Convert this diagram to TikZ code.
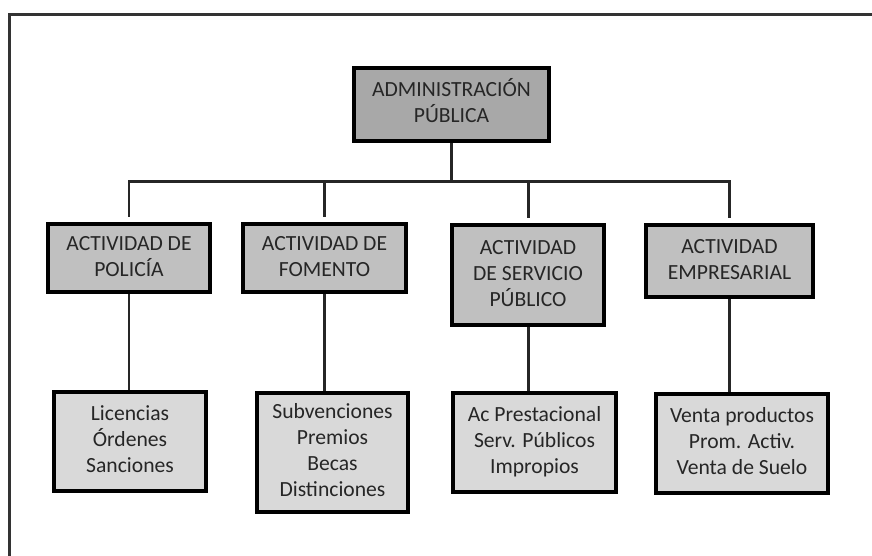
\documentclass[tikz,border=0pt]{standalone}
\usepackage{fontspec}
\setmainfont{Carlito}
\usepackage{tikz}
\usetikzlibrary{positioning}
\definecolor{topgray}{RGB}{168,168,168}
\definecolor{midgray}{RGB}{192,192,192}
\definecolor{lowgray}{RGB}{217,217,217}

\begin{document}
\begin{tikzpicture}[scale=1]
        \tikzstyle{box}=[draw,rectangle,line width=2.5pt,text centered,inner sep=2pt,font=\fontsize{12.3}{14.8}\selectfont,text=black!85]
        \tikzstyle{admin}=[box,fill=topgray]
        \tikzstyle{activ}=[box,fill=midgray]
        \tikzstyle{tarea}=[box,fill=lowgray]
        \tikzstyle{link}=[line width=1.7pt,black!85]

        \useasboundingbox (0,0) rectangle (17.44,11.12);
        % marco
        \draw[line width=1.6pt,black!80] (0.19,0) -- (0.19,10.83) -- (17.44,10.83);

        \node[admin,minimum width=3.9cm,minimum height=1.46cm] (adm) at (9.03,9.03) {
            \begin{tabular}{c}
                ADMINISTRACIÓN \\
                PÚBLICA
            \end{tabular}};

        \node[activ,minimum width=3.24cm,minimum height=1.36cm] (pol) at (2.58,5.96) {
            \begin{tabular}{c}
                ACTIVIDAD DE \\
                POLICÍA
            \end{tabular}};

        \node[activ,minimum width=3.26cm,minimum height=1.36cm] (fom) at (6.49,5.96) {
            \begin{tabular}{c}
                ACTIVIDAD DE \\
                FOMENTO
            \end{tabular}};

        \node[activ,minimum width=3.04cm,minimum height=2.0cm] (ser) at (10.56,5.62) {
            \begin{tabular}{c}
                ACTIVIDAD \\
                DE SERVICIO \\
                PÚBLICO
            \end{tabular}};

        \node[activ,minimum width=3.34cm,minimum height=1.44cm] (emp) at (14.59,5.9) {
            \begin{tabular}{c}
                ACTIVIDAD \\
                EMPRESARIAL
            \end{tabular}};

        \node[tarea,minimum width=3.04cm,minimum height=1.98cm] (polb) at (2.6,2.29) {
            \begin{tabular}{c}
                Licencias \\
                Órdenes \\
                Sanciones
            \end{tabular}};

        \node[tarea,minimum width=3.02cm,minimum height=2.38cm] (fomb) at (6.65,2.07) {
            \begin{tabular}{c}
                Subvenciones \\
                Premios \\
                Becas \\
                Distinciones
            \end{tabular}};

        \node[tarea,minimum width=3.26cm,minimum height=1.98cm] (serb) at (10.69,2.27) {
            \begin{tabular}{c}
                Ac Prestacional \\
                Serv. Públicos \\
                Impropios
            \end{tabular}};

        \node[tarea,minimum width=3.36cm,minimum height=1.98cm] (empb) at (14.84,2.25) {
            \begin{tabular}{c}
                Venta productos \\
                Prom. Activ. \\
                Venta de Suelo
            \end{tabular}};

        % ramas
        \draw[link] (adm.south) -- ++(0,-0.76) coordinate (bus);
        \draw[link,shorten <=3pt] (pol.north) -- (pol.north |- bus) -- (emp.north |- bus) -- (emp.north) [shorten >=3pt];
        \foreach \n in {fom,ser}
            \draw[link,shorten <=3pt] (\n.north) -- (\n.north |- bus);

        \foreach \a/\b in {pol/polb,fom/fomb,ser/serb,emp/empb}
            \draw[link] (\a.south) -- (\a.south |- \b.north);

\end{tikzpicture}
\end{document}
